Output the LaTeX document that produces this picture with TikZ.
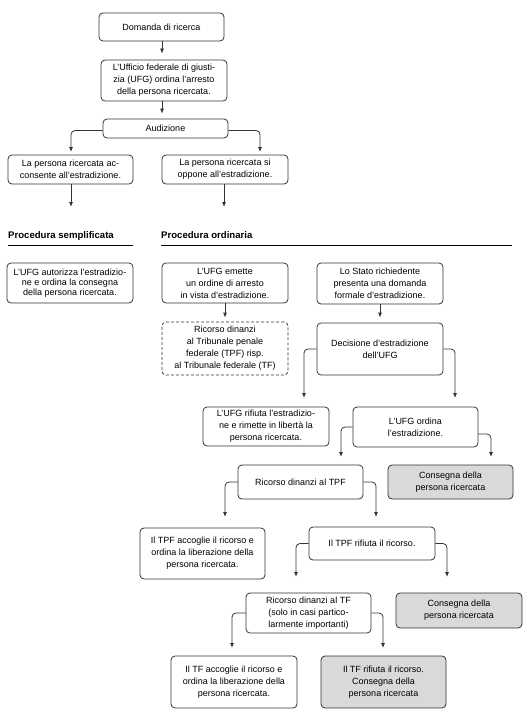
\documentclass[tikz,border=0pt]{standalone}
\usepackage{fontspec}
\setmainfont{Liberation Sans}
\usetikzlibrary{arrows.meta}
\definecolor{ln}{HTML}{333333}
\definecolor{gf}{HTML}{D9D9D9}
\begin{document}
\begin{tikzpicture}[x=1pt,y=-1pt,
  box/.style={draw=ln, line width=0.8pt, rounded corners=4pt, align=center,
    font=\fontsize{9}{12}\selectfont, inner sep=0pt, text=black},
  gbox/.style={box, fill=gf},
  dbox/.style={box, dash pattern=on 3pt off 2pt},
  sz/.style 2 args={minimum width=#1, minimum height=#2},
  conn/.style={draw=ln, line width=0.8pt, -{Latex[length=5pt,width=4pt]}, rounded corners=4pt},
  head/.style={font=\fontsize{9.6}{12}\selectfont\bfseries, inner sep=0pt, anchor=base west},
  rule/.style={draw=black, line width=0.9pt}]
\useasboundingbox (0,0) rectangle (525,725);

% top
\node[box, sz={125pt}{28pt}] (b1) at (161.5,27) {Domanda di ricerca};
\node[box, sz={126pt}{41pt}] (b2) at (164,80.5) {L'Ufficio federale di giusti-\\zia (UFG) ordina l'arresto\\della persona ricercata.};
\node[box, sz={125pt}{19pt}] (aud) at (165.5,128.5) {Audizione};
\node[box, sz={125pt}{29pt}] (acc) at (70.5,169.5) {La persona ricercata ac-\\consente all'estradizione.};
\node[box, sz={126pt}{29pt}] (opp) at (225,169.5) {La persona ricercata si\\oppone all'estradizione.};

\draw[conn, shorten >=6pt] (b1.south -| 162,0) -- (b2.north -| 162,0);
\draw[conn, shorten >=5pt] (b2.south -| 162,0) -- (aud.north -| 162,0);
\coordinate (a1) at (71,152);
\coordinate (a2) at (260,152);
\draw[conn] ([yshift=-2pt]aud.west) -| (a1);
\draw[conn] ([yshift=-2pt]aud.east) -| (a2);
\coordinate (a3) at (71,207);
\coordinate (a4) at (224,207);
\draw[conn] (acc.south -| a3) -- (a3);
\draw[conn] (opp.south -| a4) -- (a4);

% headings
\node[head] (h1) at (8,238) {Procedura semplificata};
\node[head] (h2) at (161,238) {Procedura ordinaria};
\draw[rule] (h1.west |- 0,245) -- (133,245);
\draw[rule] (h2.west |- 0,245) -- (512,245);

% procedures
\node[box, sz={126pt}{40pt}, font=\fontsize{9}{10}\selectfont] (aut) at (70,283) {L'UFG autorizza l'estradizio-\\ne e ordina la consegna\\della persona ricercata.};
\node[box, sz={126pt}{40pt}] (eme) at (225,283) {L'UFG emette\\un ordine di arresto\\in vista d'estradizione.};
\node[box, sz={126pt}{41pt}] (sta) at (380,283.5) {Lo Stato richiedente\\presenta una domanda\\formale d'estradizione.};
\node[dbox, sz={126pt}{53pt}] (ric) at (225,348.5) {Ricorso dinanzi\\al Tribunale penale\\federale (TPF) risp.\\al Tribunale federale (TF)};
\node[box, sz={126pt}{52pt}] (dec) at (380,349) {Decisione d'estradizione\\dell'UFG};

\draw[conn, shorten >=4pt] (eme.south) -- (eme.south |- ric.north);
\draw[conn, shorten >=5pt] (sta.south) -- (sta.south |- dec.north);

\node[box, sz={126pt}{39pt}] (rif) at (266,426.5) {L'UFG rifiuta l'estradizio-\\ne e rimette in libertà la\\persona ricercata.};
\node[box, sz={125pt}{40pt}] (ord) at (415.5,427) {L'UFG ordina\\l'estradizione.};
\coordinate (d1) at (304,398);
\coordinate (d2) at (455,398);
\draw[conn] (dec.west) -| (d1);
\draw[conn] (dec.east) -| (d2);

\node[box, sz={125pt}{34pt}] (tpf) at (300.5,482) {Ricorso dinanzi al TPF};
\node[gbox, sz={125pt}{34pt}] (con1) at (450.5,482) {Consegna della\\persona ricercata};
\coordinate (o1) at (341,457);
\coordinate (o2) at (491,457);
\draw[conn] (ord.west) -| (o1);
\draw[conn] ([yshift=-7pt]ord.east) -| (o2);

\node[box, sz={125pt}{51pt}] (tac) at (202.5,553.5) {Il TPF accoglie il ricorso e\\ordina la liberazione della\\persona ricercata.};
\node[box, sz={126pt}{33pt}] (trf) at (372,543.5) {Il TPF rifiuta il ricorso.};
\coordinate (p1) at (225,517);
\coordinate (p2) at (376,517);
\draw[conn] (tpf.west) -| (p1);
\draw[conn] (tpf.east) -| (p2);

\node[box, sz={125pt}{40pt}] (tf) at (308.5,613) {Ricorso dinanzi al TF\\(solo in casi partico-\\larmente importanti)};
\node[gbox, sz={126pt}{35pt}] (con2) at (459,610.5) {Consegna della\\persona ricercata};
\coordinate (q1) at (296,577);
\coordinate (q2) at (447,577);
\draw[conn] (trf.west) -| (q1);
\draw[conn] (trf.east) -| (q2);

\node[box, sz={126pt}{52pt}] (fac) at (234,682) {Il TF accoglie il ricorso e\\ordina la liberazione della\\persona ricercata.};
\node[gbox, sz={125pt}{52pt}] (frf) at (383.5,682) {Il TF rifiuta il ricorso.\\Consegna della\\persona ricercata};
\coordinate (r1) at (232,648);
\coordinate (r2) at (383,648);
\draw[conn] (tf.west) -| (r1);
\draw[conn] (tf.east) -| (r2);
\end{tikzpicture}
\end{document}
